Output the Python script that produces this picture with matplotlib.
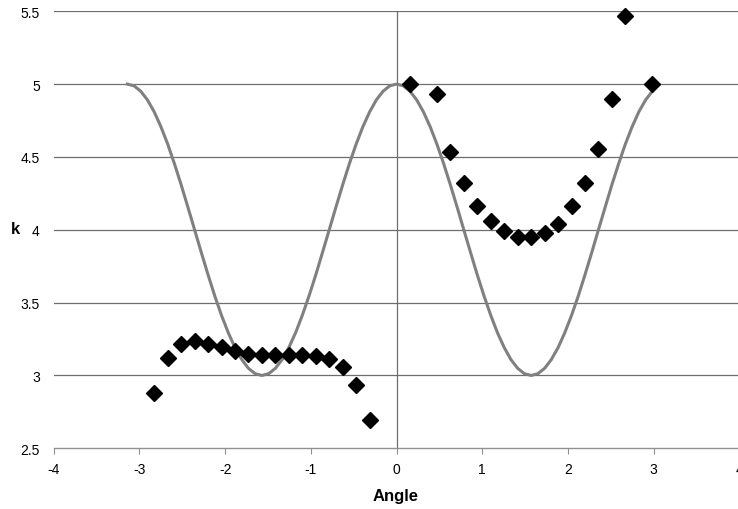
import matplotlib.pyplot as plt

plt.rcParams['font.family'] = ['Liberation Sans', 'DejaVu Sans']
plt.rcParams['axes.unicode_minus'] = False

# gray curve (steps of pi/40); it stops under the last diamond
curve_x = [-3.142, -3.063, -2.985, -2.906, -2.827, -2.749, -2.670, -2.592, -2.513, -2.435,
           -2.356, -2.278, -2.199, -2.121, -2.042, -1.963, -1.885, -1.806, -1.728, -1.649,
           -1.571, -1.492, -1.414, -1.335, -1.257, -1.178, -1.100, -1.021, -0.942, -0.864,
           -0.785, -0.707, -0.628, -0.550, -0.471, -0.393, -0.314, -0.236, -0.157, -0.079,
           0.0, 0.079, 0.157, 0.236, 0.314, 0.393, 0.471, 0.550, 0.628, 0.707,
           0.785, 0.864, 0.942, 1.021, 1.100, 1.178, 1.257, 1.335, 1.414, 1.492,
           1.571, 1.649, 1.728, 1.806, 1.885, 1.963, 2.042, 2.121, 2.199, 2.278,
           2.356, 2.435, 2.513, 2.592, 2.670, 2.749, 2.827, 2.906, 2.985]
curve_k = [5.000, 4.988, 4.951, 4.891, 4.809, 4.707, 4.588, 4.454, 4.309, 4.156,
           4.000, 3.844, 3.691, 3.546, 3.412, 3.293, 3.191, 3.109, 3.049, 3.012,
           3.000, 3.012, 3.049, 3.109, 3.191, 3.293, 3.412, 3.546, 3.691, 3.844,
           4.000, 4.156, 4.309, 4.454, 4.588, 4.707, 4.809, 4.891, 4.951, 4.988,
           5.000, 4.988, 4.951, 4.891, 4.809, 4.707, 4.588, 4.454, 4.309, 4.156,
           4.000, 3.844, 3.691, 3.546, 3.412, 3.293, 3.191, 3.109, 3.049, 3.012,
           3.000, 3.012, 3.049, 3.109, 3.191, 3.293, 3.412, 3.546, 3.691, 3.844,
           4.000, 4.156, 4.309, 4.454, 4.588, 4.707, 4.809, 4.891, 4.951]

# diamonds, left branch
left_x = [-2.827, -2.670, -2.513, -2.356, -2.199, -2.042, -1.885, -1.728, -1.571,
          -1.414, -1.257, -1.100, -0.942, -0.785, -0.628, -0.471, -0.314]
left_k = [2.879, 3.118, 3.214, 3.237, 3.216, 3.192, 3.169, 3.146, 3.139,
          3.139, 3.139, 3.139, 3.134, 3.116, 3.059, 2.936, 2.694]

# diamonds, right branch
right_x = [0.157, 0.471, 0.628, 0.785, 0.942, 1.100, 1.257, 1.414, 1.571,
           1.728, 1.885, 2.042, 2.199, 2.356, 2.513, 2.670, 2.985]
right_k = [5.0, 4.929, 4.534, 4.319, 4.162, 4.062, 3.990, 3.952, 3.950,
           3.975, 4.041, 4.160, 4.324, 4.555, 4.901, 5.468, 5.0]

fig = plt.figure(figsize=(7.38, 5.10), dpi=100)
ax = fig.add_axes([0.0728, 0.119, 0.929, 0.857])

ax.set_xlim(-4, 4)
ax.set_ylim(2.5, 5.5)
ax.set_xticks(range(-4, 5))
ax.set_yticks([2.5, 3, 3.5, 4, 4.5, 5, 5.5])
ax.set_yticklabels(['2.5', '3', '3.5', '4', '4.5', '5', '5.5'])

for yv in [3, 3.5, 4, 4.5, 5, 5.5]:
    ax.axhline(yv, color='#6e6e6e', lw=0.9, zorder=1)
ax.axvline(0, color='#6e6e6e', lw=0.9, zorder=1)

ax.plot(curve_x, curve_k, color='#808080', lw=2.2, zorder=2, clip_on=False)
ax.plot(left_x, left_k, 'D', color='black', ms=8.5, zorder=3, clip_on=False)
ax.plot(right_x, right_k, 'D', color='black', ms=8.5, zorder=3, clip_on=False)

for s in ['top', 'right', 'left']:
    ax.spines[s].set_visible(False)
ax.spines['bottom'].set_color('#909090')
ax.spines['bottom'].set_linewidth(1.0)
ax.tick_params(axis='x', direction='out', length=4, color='#909090', labelsize=10, pad=6)
ax.tick_params(axis='y', length=0, labelsize=10, pad=10)

fig.text(15 / 738, 1 - 230 / 510, 'k', fontsize=12, fontweight='bold', ha='center', va='center')
fig.text(396 / 738, 1 - 497 / 510, 'Angle', fontsize=12, fontweight='bold', ha='center', va='center')

fig.savefig('out.png', dpi=100)
